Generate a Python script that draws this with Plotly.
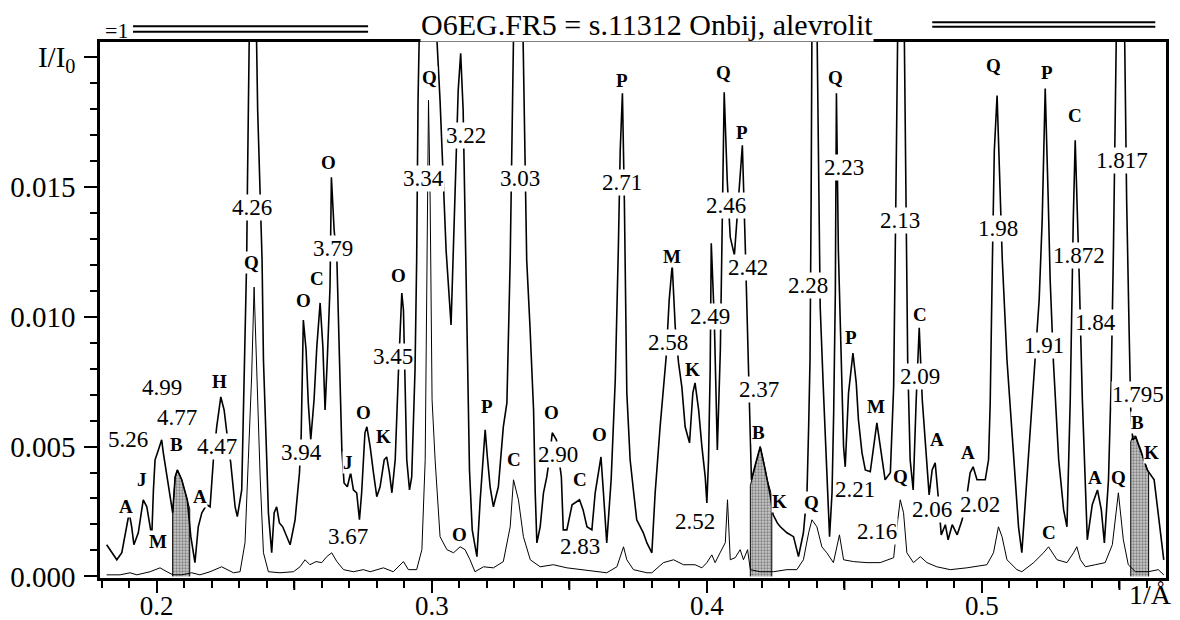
import plotly.graph_objects as go

# ---------------- data (1/Angstrom, I/I0) ----------------
upper_x = [0.1818, 0.1855, 0.1873, 0.1891, 0.1900, 0.1909, 0.1917, 0.1933, 0.1951, 0.1964,
           0.1976, 0.1982, 0.1988, 0.1994, 0.2006, 0.2018, 0.2024, 0.2036, 0.2048, 0.2058,
           0.2067, 0.2075, 0.2091, 0.2111, 0.2124, 0.2139, 0.2151, 0.2164, 0.2182, 0.2194,
           0.2206, 0.2218, 0.2233, 0.2245, 0.2255, 0.2269, 0.2285, 0.2293, 0.2309, 0.2317,
           0.2327, 0.2330, 0.2332, 0.2347, 0.2363, 0.2367, 0.2383, 0.2388, 0.2400, 0.2406,
           0.2418, 0.2427, 0.2436, 0.2446, 0.2458, 0.2473, 0.2485, 0.2503, 0.2519, 0.2525,
           0.2533, 0.2543, 0.2551, 0.2560, 0.2572, 0.2582, 0.2594, 0.2604, 0.2612, 0.2620,
           0.2630, 0.2635, 0.2645, 0.2655, 0.2660, 0.2667, 0.2673, 0.2681, 0.2693, 0.2705,
           0.2715, 0.2727, 0.2737, 0.2745, 0.2757, 0.2764, 0.2776, 0.2788, 0.2800, 0.2812,
           0.2827, 0.2836, 0.2846, 0.2855, 0.2867, 0.2879, 0.2891, 0.2897, 0.2903, 0.2909,
           0.2919, 0.2927, 0.2939, 0.2945, 0.2950, 0.2954, 0.2987, 0.3019, 0.3030, 0.3052,
           0.3070, 0.3085, 0.3096, 0.3105, 0.3114, 0.3123, 0.3130, 0.3137, 0.3147, 0.3164,
           0.3176, 0.3187, 0.3194, 0.3202, 0.3212, 0.3224, 0.3242, 0.3260, 0.3273, 0.3285,
           0.3290, 0.3292, 0.3310, 0.3332, 0.3339, 0.3345, 0.3357, 0.3370, 0.3376, 0.3382,
           0.3394, 0.3406, 0.3418, 0.3427, 0.3438, 0.3453, 0.3471, 0.3478, 0.3491, 0.3510,
           0.3537, 0.3550, 0.3564, 0.3582, 0.3594, 0.3615, 0.3624, 0.3636, 0.3652, 0.3667,
           0.3678, 0.3685, 0.3693, 0.3700, 0.3709, 0.3721, 0.3734, 0.3745, 0.3769, 0.3782,
           0.3800, 0.3812, 0.3830, 0.3842, 0.3852, 0.3863, 0.3874, 0.3885, 0.3897, 0.3909,
           0.3921, 0.3937, 0.3949, 0.3957, 0.3970, 0.3982, 0.3994, 0.4000, 0.4006, 0.4012,
           0.4016, 0.4027, 0.4038, 0.4049, 0.4056, 0.4063, 0.4074, 0.4085, 0.4100, 0.4114,
           0.4129, 0.4140, 0.4147, 0.4154, 0.4162, 0.4176, 0.4194, 0.4212, 0.4230, 0.4241,
           0.4256, 0.4267, 0.4291, 0.4315, 0.4333, 0.4351, 0.4364, 0.4370, 0.4375, 0.4379,
           0.4383, 0.4386, 0.4401, 0.4406, 0.4412, 0.4424, 0.4436, 0.4446, 0.4455, 0.4461,
           0.4467, 0.4471, 0.4478, 0.4483, 0.4491, 0.4497, 0.4503, 0.4515, 0.4531, 0.4543,
           0.4551, 0.4564, 0.4576, 0.4594, 0.4618, 0.4630, 0.4648, 0.4667, 0.4679, 0.4687,
           0.4690, 0.4703, 0.4718, 0.4725, 0.4730, 0.4739, 0.4750, 0.4761, 0.4772, 0.4783,
           0.4797, 0.4808, 0.4819, 0.4830, 0.4841, 0.4852, 0.4867, 0.4877, 0.4892, 0.4910,
           0.4928, 0.4943, 0.4957, 0.4968, 0.4982, 0.5012, 0.5024, 0.5030, 0.5038, 0.5045,
           0.5055, 0.5063, 0.5074, 0.5091, 0.5115, 0.5133, 0.5145, 0.5164, 0.5182, 0.5194,
           0.5208, 0.5219, 0.5230, 0.5241, 0.5248, 0.5260, 0.5279, 0.5297, 0.5309, 0.5321,
           0.5327, 0.5332, 0.5339, 0.5347, 0.5354, 0.5365, 0.5376, 0.5383, 0.5401, 0.5420,
           0.5434, 0.5445, 0.5460, 0.5470, 0.5478, 0.5483, 0.5500, 0.5519, 0.5526, 0.5535,
           0.5541, 0.5548, 0.5559, 0.5577, 0.5601, 0.5626, 0.5644, 0.5661]
upper_y = [0.00122, 0.00064, 0.00091, 0.00191, 0.00245, 0.00191, 0.00122, 0.00168, 0.00295, 0.00268,
           0.00191, 0.00153, 0.00333, 0.00449, 0.00487, 0.00526, 0.00476, 0.00399, 0.00322, 0.00245,
           0.00383, 0.00410, 0.00372, 0.00295, 0.00153, 0.00053, 0.00191, 0.00245, 0.00276, 0.00268,
           0.00449, 0.00576, 0.00691, 0.00641, 0.00553, 0.00437, 0.00268, 0.00230, 0.00333, 0.00730,
           0.01218, 0.01525, 0.02064, 0.03000, 0.02060, 0.01795, 0.01218, 0.00833, 0.00449, 0.00245,
           0.00091, 0.00245, 0.00268, 0.00206, 0.00191, 0.00153, 0.00122, 0.00218, 0.00399, 0.00537,
           0.00987, 0.00872, 0.00668, 0.00526, 0.00680, 0.00884, 0.01053, 0.00884, 0.00641, 0.00833,
           0.01114, 0.01537, 0.01333, 0.01218, 0.00987, 0.00707, 0.00487, 0.00360, 0.00345, 0.00399,
           0.00333, 0.00322, 0.00218, 0.00322, 0.00553, 0.00576, 0.00499, 0.00399, 0.00307, 0.00345,
           0.00449, 0.00460, 0.00399, 0.00322, 0.00449, 0.00795, 0.01091, 0.01026, 0.00768, 0.00449,
           0.00333, 0.00383, 0.00795, 0.01218, 0.01833, 0.02060, 0.03000, 0.02060, 0.01833, 0.01256,
           0.00968, 0.01449, 0.01872, 0.02014, 0.01795, 0.01256, 0.00757, 0.00410, 0.00179, 0.00076,
           0.00295, 0.00487, 0.00564, 0.00460, 0.00345, 0.00268, 0.00345, 0.00576, 0.00668, 0.01218,
           0.01833, 0.02060, 0.03000, 0.02060, 0.01641, 0.01218, 0.00960, 0.00641, 0.00322, 0.00129,
           0.00191, 0.00322, 0.00383, 0.00449, 0.00553, 0.00526, 0.00383, 0.00179, 0.00179, 0.00276,
           0.00295, 0.00256, 0.00191, 0.00179, 0.00322, 0.00460, 0.00322, 0.00129, 0.00372, 0.00757,
           0.01256, 0.01641, 0.01860, 0.01449, 0.00707, 0.00449, 0.00322, 0.00218, 0.00168, 0.00129,
           0.00091, 0.00322, 0.00576, 0.00707, 0.00845, 0.01064, 0.01199, 0.00960, 0.00822, 0.00730,
           0.00576, 0.00514, 0.00707, 0.00745, 0.00641, 0.00499, 0.00383, 0.00283, 0.00449, 0.00795,
           0.01283, 0.00987, 0.00487, 0.00872, 0.01449, 0.01864, 0.01525, 0.01306, 0.01237, 0.01449,
           0.01660, 0.01256, 0.00949, 0.00603, 0.00372, 0.00430, 0.00499, 0.00410, 0.00314, 0.00237,
           0.00206, 0.00191, 0.00168, 0.00153, 0.00076, 0.00168, 0.00322, 0.00576, 0.00833, 0.01449,
           0.02060, 0.03000, 0.02060, 0.01449, 0.01037, 0.00707, 0.00383, 0.00153, 0.00322, 0.00630,
           0.01091, 0.01860, 0.01256, 0.01064, 0.00833, 0.00499, 0.00422, 0.00707, 0.00860, 0.00745,
           0.00603, 0.00476, 0.00410, 0.00403, 0.00591, 0.00499, 0.00372, 0.00399, 0.00730, 0.01449,
           0.02060, 0.03000, 0.02060, 0.01218, 0.00833, 0.00449, 0.00333, 0.00680, 0.00957, 0.00680,
           0.00487, 0.00314, 0.00410, 0.00437, 0.00307, 0.00160, 0.00199, 0.00141, 0.00199, 0.00160,
           0.00218, 0.00295, 0.00399, 0.00422, 0.00372, 0.00372, 0.00449, 0.00668, 0.01218, 0.01641,
           0.01852, 0.01564, 0.01218, 0.00833, 0.00449, 0.00191, 0.00091, 0.00383, 0.00641, 0.00822,
           0.01064, 0.01372, 0.01879, 0.01449, 0.01141, 0.00822, 0.00449, 0.00256, 0.00191, 0.00680,
           0.01091, 0.01372, 0.01679, 0.01333, 0.01141, 0.00680, 0.00295, 0.00141, 0.00276, 0.00333,
           0.00256, 0.00129, 0.00372, 0.00757, 0.01256, 0.02060, 0.03000, 0.02060, 0.01449, 0.00949,
           0.00641, 0.00526, 0.00537, 0.00487, 0.00410, 0.00372, 0.00218, 0.00064]

lower_x = [0.1818, 0.1867, 0.1903, 0.1928, 0.1976, 0.2012, 0.2037, 0.2059, 0.2092, 0.2127,
           0.2157, 0.2194, 0.2236, 0.2279, 0.2303, 0.2321, 0.2333, 0.2345, 0.2354, 0.2364,
           0.2376, 0.2388, 0.2406, 0.2448, 0.2497, 0.2521, 0.2539, 0.2557, 0.2579, 0.2600,
           0.2618, 0.2636, 0.2655, 0.2679, 0.2715, 0.2751, 0.2776, 0.2824, 0.2860, 0.2897,
           0.2915, 0.2945, 0.2964, 0.2976, 0.2983, 0.2988, 0.2994, 0.3001, 0.3012, 0.3030,
           0.3055, 0.3079, 0.3103, 0.3121, 0.3139, 0.3157, 0.3188, 0.3224, 0.3260, 0.3285,
           0.3297, 0.3315, 0.3333, 0.3358, 0.3394, 0.3442, 0.3491, 0.3539, 0.3600, 0.3636,
           0.3673, 0.3697, 0.3709, 0.3733, 0.3782, 0.3800, 0.3842, 0.3879, 0.3915, 0.3957,
           0.3982, 0.4000, 0.4018, 0.4030, 0.4048, 0.4067, 0.4075, 0.4085, 0.4103, 0.4121,
           0.4133, 0.4148, 0.4158, 0.4194, 0.4242, 0.4291, 0.4327, 0.4351, 0.4370, 0.4382,
           0.4400, 0.4418, 0.4436, 0.4460, 0.4482, 0.4497, 0.4533, 0.4582, 0.4630, 0.4679,
           0.4691, 0.4703, 0.4715, 0.4727, 0.4751, 0.4776, 0.4800, 0.4836, 0.4885, 0.4945,
           0.5018, 0.5042, 0.5060, 0.5073, 0.5091, 0.5127, 0.5145, 0.5188, 0.5224, 0.5242,
           0.5273, 0.5309, 0.5333, 0.5345, 0.5358, 0.5376, 0.5412, 0.5448, 0.5474, 0.5496,
           0.5514, 0.5532, 0.5558, 0.5605, 0.5641, 0.5661]
lower_y = [0.00006, 0.00006, 0.00014, 0.00006, 0.00018, 0.00033, 0.00018, 0.00006, 0.00006, 0.00014,
           0.00006, 0.00018, 0.00037, 0.00014, 0.00018, 0.00130, 0.00449, 0.00768, 0.01114, 0.00768,
           0.00383, 0.00091, 0.00018, 0.00014, 0.00018, 0.00037, 0.00064, 0.00045, 0.00057, 0.00053,
           0.00076, 0.00091, 0.00057, 0.00026, 0.00018, 0.00026, 0.00018, 0.00033, 0.00018, 0.00057,
           0.00026, 0.00026, 0.00103, 0.00449, 0.01449, 0.01833, 0.01449, 0.00680, 0.00449, 0.00153,
           0.00103, 0.00091, 0.00114, 0.00103, 0.00064, 0.00018, 0.00037, 0.00033, 0.00057, 0.00191,
           0.00372, 0.00295, 0.00153, 0.00064, 0.00037, 0.00045, 0.00033, 0.00026, 0.00018, 0.00014,
           0.00037, 0.00114, 0.00064, 0.00026, 0.00014, 0.00014, 0.00053, 0.00064, 0.00045, 0.00045,
           0.00033, 0.00053, 0.00083, 0.00053, 0.00091, 0.00130, 0.00295, 0.00064, 0.00072, 0.00103,
           0.00064, 0.00103, 0.00026, 0.00018, 0.00018, 0.00026, 0.00026, 0.00064, 0.00168, 0.00218,
           0.00191, 0.00114, 0.00091, 0.00053, 0.00160, 0.00064, 0.00057, 0.00053, 0.00053, 0.00072,
           0.00191, 0.00295, 0.00245, 0.00091, 0.00053, 0.00076, 0.00053, 0.00037, 0.00026, 0.00033,
           0.00045, 0.00091, 0.00191, 0.00153, 0.00064, 0.00026, 0.00018, 0.00053, 0.00091, 0.00114,
           0.00064, 0.00053, 0.00091, 0.00114, 0.00064, 0.00037, 0.00045, 0.00053, 0.00122, 0.00322,
           0.00141, 0.00045, 0.00018, 0.00018, 0.00026, 0.00006]

# shaded "B" reflections (outline of the filled areas)
b1_x = [0.2058, 0.2058, 0.2067, 0.2075, 0.2091, 0.2111, 0.2120, 0.2120]
b1_y = [0.0, 0.00245, 0.00383, 0.00410, 0.00372, 0.00295, 0.00260, 0.0]
b2_x = [0.4158, 0.4158, 0.4170, 0.4185, 0.4194, 0.4205, 0.4220, 0.4236, 0.4236]
b2_y = [0.0, 0.00350, 0.00400, 0.00460, 0.00500, 0.00450, 0.00370, 0.00310, 0.0]
b3_x = [0.5541, 0.5541, 0.5550, 0.5559, 0.5570, 0.5585, 0.5606, 0.5606]
b3_y = [0.0, 0.00520, 0.00540, 0.00540, 0.00500, 0.00460, 0.00400, 0.0]

# d-spacing labels (text, x, y)
d_labels = [("5.26", 0.1896, 0.00526), ("4.99", 0.2018, 0.00726), ("4.77", 0.2075, 0.00610),
            ("4.47", 0.2220, 0.00499), ("4.26", 0.2345, 0.01422), ("3.79", 0.2642, 0.01264),
            ("3.94", 0.2527, 0.00476), ("3.67", 0.2697, 0.00152), ("3.45", 0.2860, 0.00845),
            ("3.34", 0.2969, 0.01534), ("3.22", 0.3125, 0.01699), ("3.03", 0.3321, 0.01534),
            ("2.90", 0.3460, 0.00468), ("2.83", 0.3537, 0.00114), ("2.71", 0.3691, 0.01518),
            ("2.58", 0.3860, 0.00899), ("2.52", 0.3957, 0.00210), ("2.49", 0.4012, 0.00999),
            ("2.46", 0.4069, 0.01430), ("2.42", 0.4151, 0.01191), ("2.37", 0.4188, 0.00718),
            ("2.28", 0.4369, 0.01122), ("2.23", 0.4497, 0.01576), ("2.21", 0.4539, 0.00333),
            ("2.16", 0.4618, 0.00172), ("2.13", 0.4703, 0.01372), ("2.09", 0.4776, 0.00768),
            ("2.06", 0.4818, 0.00257), ("2.02", 0.4994, 0.00276), ("1.98", 0.5060, 0.01341),
            ("1.91", 0.5224, 0.00891), ("1.872", 0.5351, 0.01237), ("1.84", 0.5412, 0.00976),
            ("1.817", 0.5509, 0.01603), ("1.795", 0.5569, 0.00699)]

# mineral letters (text, x, y)
phase_labels = [("A", 0.1888, 0.00268), ("J", 0.1945, 0.00372), ("M", 0.2006, 0.00133),
                ("B", 0.2073, 0.00507), ("A", 0.2157, 0.00307), ("H", 0.2228, 0.00749),
                ("Q", 0.2345, 0.01210), ("O", 0.2624, 0.01595), ("C", 0.2582, 0.01149),
                ("O", 0.2533, 0.01064), ("J", 0.2697, 0.00437), ("O", 0.2751, 0.00630),
                ("K", 0.2824, 0.00537), ("O", 0.2879, 0.01160), ("Q", 0.2991, 0.01922),
                ("O", 0.3100, 0.00160), ("P", 0.3202, 0.00653), ("C", 0.3299, 0.00449),
                ("O", 0.3436, 0.00630), ("C", 0.3539, 0.00372), ("O", 0.3609, 0.00545),
                ("P", 0.3691, 0.01910), ("M", 0.3873, 0.01230), ("K", 0.3949, 0.00795),
                ("Q", 0.4060, 0.01941), ("P", 0.4127, 0.01710), ("B", 0.4188, 0.00553),
                ("K", 0.4264, 0.00287), ("Q", 0.4382, 0.00283), ("Q", 0.4467, 0.01922),
                ("P", 0.4524, 0.00918), ("M", 0.4616, 0.00653), ("Q", 0.4703, 0.00383),
                ("C", 0.4776, 0.01007), ("A", 0.4836, 0.00526), ("A", 0.4951, 0.00476),
                ("Q", 0.5042, 0.01968), ("P", 0.5236, 0.01941), ("C", 0.5242, 0.00168),
                ("C", 0.5339, 0.01776), ("A", 0.5412, 0.00380), ("Q", 0.5497, 0.00380),
                ("B", 0.5564, 0.00591), ("K", 0.5618, 0.00476)]

x_tick_vals = [0.2, 0.3, 0.4, 0.5]
x_tick_text = ["0.2", "0.3", "0.4", "0.5"]
x_mid_ticks = [0.25, 0.35, 0.45, 0.55]
y_tick_vals = [0.0, 0.005, 0.010, 0.015, 0.020]
y_tick_text = ["0.000", "0.005", "0.010", "0.015", "I/I<sub>0</sub>"]
title_text = "O6EG.FR5 = s.11312 Onbij, alevrolit"

# ---------------- figure ----------------
SERIF = "Liberation Serif, Times New Roman, serif"
fig = go.Figure()

pattern = dict(shape=".", fgcolor="#3a3a3a", bgcolor="#c8c8c8", size=3, solidity=0.45)
for bx, by in [(b1_x, b1_y), (b2_x, b2_y), (b3_x, b3_y)]:
    fig.add_trace(go.Scatter(x=bx, y=by, mode="lines", fill="toself",
                             fillcolor="#9a9a9a", fillpattern=pattern,
                             line=dict(color="black", width=1), hoverinfo="skip"))

fig.add_trace(go.Scatter(x=lower_x, y=lower_y, mode="lines",
                         line=dict(color="black", width=1)))
fig.add_trace(go.Scatter(x=upper_x, y=upper_y, mode="lines",
                         line=dict(color="black", width=1.6)))

for t, x, y in d_labels:
    fig.add_annotation(x=x, y=y, text=t, showarrow=False, xref="x", yref="y",
                       xanchor="center", yanchor="middle",
                       font=dict(family=SERIF, size=23, color="black"),
                       bgcolor="white", borderpad=0)
for t, x, y in phase_labels:
    fig.add_annotation(x=x, y=y, text="<b>" + t + "</b>", showarrow=False, xref="x", yref="y",
                       xanchor="center", yanchor="middle",
                       font=dict(family=SERIF, size=19, color="black"),
                       bgcolor="white", borderpad=0)

# The page body adds an 8px offset; plot area in page pixels: x 100..1165.7, y 41.7..578.3
OFF = 8
W, H = 1180 - OFF, 620 - OFF
L, R, T, B = 100, 1165.7, 41.7, 578.3


def px(xp):
    return (xp - L) / (R - L)


def py(yp):
    return (B - yp) / (B - T)


# medium ticks at the half-decades
for v in x_mid_ticks:
    fig.add_shape(type="line", xref="x", yref="paper", x0=v, x1=v,
                  y0=0, y1=py(B + 12), line=dict(color="black", width=2))

# title with double rules
for y0 in (26, 31.5):
    fig.add_shape(type="line", xref="paper", yref="paper", x0=px(133), x1=px(368),
                  y0=py(y0), y1=py(y0), line=dict(color="black", width=2))
for y0 in (22, 26.5):
    fig.add_shape(type="line", xref="paper", yref="paper", x0=px(932), x1=px(1155),
                  y0=py(y0), y1=py(y0), line=dict(color="black", width=2))
fig.add_annotation(x=px(647), y=py(24), xref="paper", yref="paper", text=title_text,
                   xanchor="center", yanchor="middle", showarrow=False,
                   font=dict(family=SERIF, size=30, color="black"),
                   bgcolor="white", borderpad=0)
fig.add_annotation(x=px(116), y=py(30), xref="paper", yref="paper", text="=1",
                   xanchor="center", yanchor="middle", showarrow=False,
                   font=dict(family=SERIF, size=22, color="black"))

fig.add_annotation(x=px(1150), y=py(595), xref="paper", yref="paper", text="1/Å",
                   xanchor="center", yanchor="middle", showarrow=False,
                   font=dict(family=SERIF, size=28, color="black"))

fig.update_layout(
    width=W, height=H,
    margin=dict(l=L - OFF, r=W - (R - OFF), t=T - OFF, b=H - (B - OFF), pad=0,
                autoexpand=False),
    paper_bgcolor="white", plot_bgcolor="white",
    showlegend=False,
    font=dict(family=SERIF, size=29, color="black"),
    xaxis=dict(range=[0.17938, 0.56691], showgrid=False, zeroline=False, automargin=False,
               showline=True, linecolor="black", linewidth=2.5, mirror=True,
               ticks="outside", ticklen=12, tickwidth=2, tickcolor="black",
               tickvals=x_tick_vals, ticktext=x_tick_text,
               tickfont=dict(family=SERIF, size=27), ticklabelstandoff=-10,
               minor=dict(dtick=0.01, tick0=0.2, ticks="outside", ticklen=7,
                          tickwidth=1.5, tickcolor="black")),
    yaxis=dict(range=[-0.0000615, 0.020577], showgrid=False, zeroline=False, automargin=False,
               showline=True, linecolor="black", linewidth=2.5, mirror=True,
               ticks="outside", ticklen=13, tickwidth=2, tickcolor="black",
               tickvals=y_tick_vals, ticktext=y_tick_text,
               tickfont=dict(family=SERIF, size=29), ticklabelstandoff=3,
               minor=dict(dtick=0.001, tick0=0, ticks="outside", ticklen=7,
                          tickwidth=1.5, tickcolor="black")),
)

fig.write_html("out.html")
